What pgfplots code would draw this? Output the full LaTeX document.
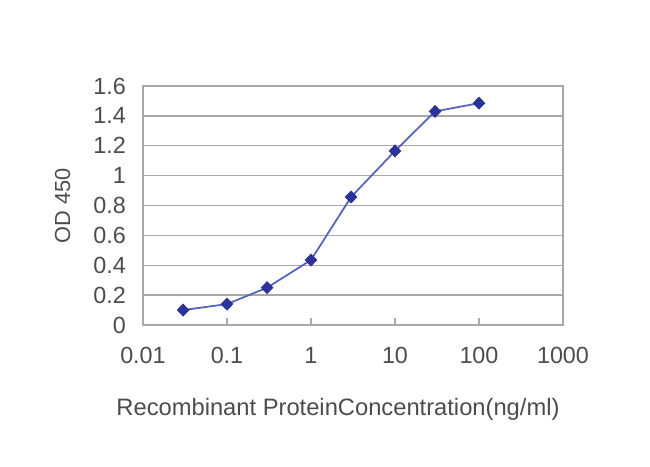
\documentclass[border=0pt]{standalone}
\usepackage{pgfplots}
\pgfplotsset{compat=1.18}
\usepackage{fontspec}
\setmainfont{Liberation Sans}
\definecolor{ptblue}{HTML}{2B3399}
\definecolor{lnblue}{HTML}{5563B8}
\definecolor{gridgray}{HTML}{A8A8A8}
\begin{document}
\begin{tikzpicture}
% 1 px of the reference = 0.02 cm
\useasboundingbox (-2.86,-2.82) rectangle (10.14,6.5);
\begin{axis}[
    at={(0,0)}, anchor=south west,
    scale only axis,
    width=8.4cm, height=4.78cm,
    xmode=log,
    xmin=0.01, xmax=1000,
    ymin=0, ymax=1.6,
    log basis x=10,
    xtick={0.01,0.1,1,10,100,1000},
    xticklabels={0.01,0.1,1,10,100,1000},
    ytick={0,0.2,0.4,0.6,0.8,1,1.2,1.4,1.6},
    yticklabels={0,0.2,0.4,0.6,0.8,1,1.2,1.4,1.6},
    minor xtick={},
    ymajorgrids,
    grid style={gridgray, line width=0.8pt},
    axis line style={gridgray, line width=0.8pt},
    xtick style={gridgray, line width=0.8pt},
    major tick length=0.14cm,
    ytick style={draw=none},
    xtick pos=bottom,
    tick align=inside,
    tick label style={font=\fontsize{13.3}{15}\selectfont, text=black!70},
    xticklabel style={yshift=-0.32cm},
    yticklabel style={xshift=-0.22cm},
    xlabel style={font=\fontsize{13.5}{15}\selectfont, text=black!70, yshift=-0.44cm, xshift=-0.3cm},
    ylabel style={font=\fontsize{12.4}{14}\selectfont, text=black!70, yshift=0.22cm},
    xlabel={Recombinant ProteinConcentration(ng/ml)},
    ylabel={OD 450},
]
\addplot[lnblue, line width=1pt, mark=diamond*, mark size=3pt,
    mark options={fill=ptblue, draw=ptblue, xscale=1.3}] coordinates {
    (0.03,0.10) (0.1,0.14) (0.3,0.25) (1,0.435) (3,0.857)
    (10,1.165) (30,1.43) (100,1.485)
};
\end{axis}
\end{tikzpicture}
\end{document}
